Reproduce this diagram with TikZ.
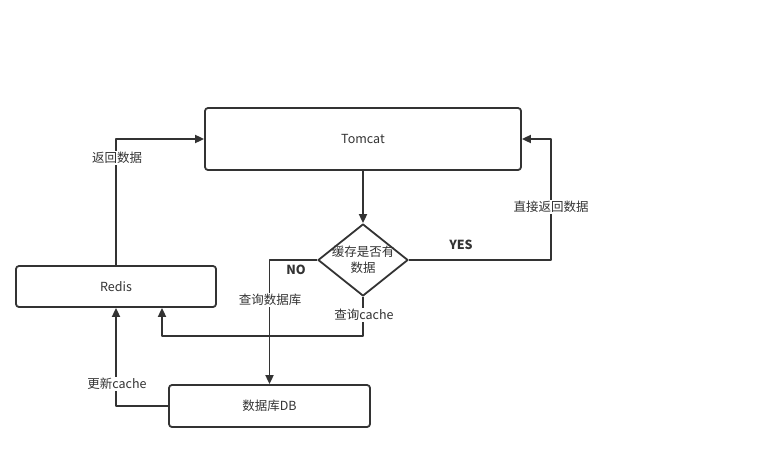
\documentclass[tikz,border=0pt]{standalone}
\usepackage{fontspec}
\setmainfont{Noto Sans CJK SC}
\usetikzlibrary{arrows.meta,shapes.geometric}
\definecolor{linegray}{HTML}{333333}
\tikzset{
  box/.style={draw=linegray, line width=1.8pt, rounded corners=3pt, inner sep=0pt, text=linegray},
  flow/.style={draw=linegray, line width=1.8pt, -{Triangle[length=9pt,width=8pt]}},
  lbl/.style={fill=white, inner sep=1pt, text=linegray},
}
\begin{document}
\begin{tikzpicture}[x=1pt, y=-1pt, line join=round, font=\fontsize{12.5}{16}\selectfont]
				\useasboundingbox (0,0) rectangle (760,458);
				\node[box, minimum width=316pt, minimum height=62pt] (tomcat) at (363,139) {Tomcat};
				\node[box, minimum width=200pt, minimum height=41pt] (redis) at (116,286.5) {Redis};
				\node[box, minimum width=201pt, minimum height=42pt] (db) at (269.5,406) {数据库DB};
				\node[draw=linegray, line width=1.8pt, diamond, minimum width=90pt, minimum height=72pt, inner sep=0pt] (cache) at (363,260) {};
				\node[align=center, text=linegray, inner sep=0pt] (cachetext) at (cache) {缓存是否有\\数据};
				\coordinate (yesright) at (551,200);
				\coordinate (cachebend) at (162,336);
				\draw[flow] (tomcat.south) -- (cache.north);
				\draw[flow] (cache.east) -| (yesright) |- (tomcat.east);
				\draw[flow] (cache.west) -| (db.north);
				\draw[flow] (cache.south) |- (cachebend) -- (redis.south -| cachebend);
				\draw[flow] (redis.north) |- (tomcat.west);
				\draw[flow] (db.west) -| (redis.south);
				\node[lbl] (directlbl) at (551,207) {直接返回数据};
				\node[lbl] (returnlbl) at (117,158) {返回数据};
				\node[lbl] (querydb) at (270,300) {查询数据库};
				\node[lbl] (querycache) at (364,315) {查询cache};
				\node[lbl] (updatelbl) at (117,384) {更新cache};
				\node[text=linegray] (yeslbl) at (461,245) {\textbf{YES}};
				\node[text=linegray] (nolbl) at (296,270) {\textbf{NO}};
			\end{tikzpicture}
\end{document}
